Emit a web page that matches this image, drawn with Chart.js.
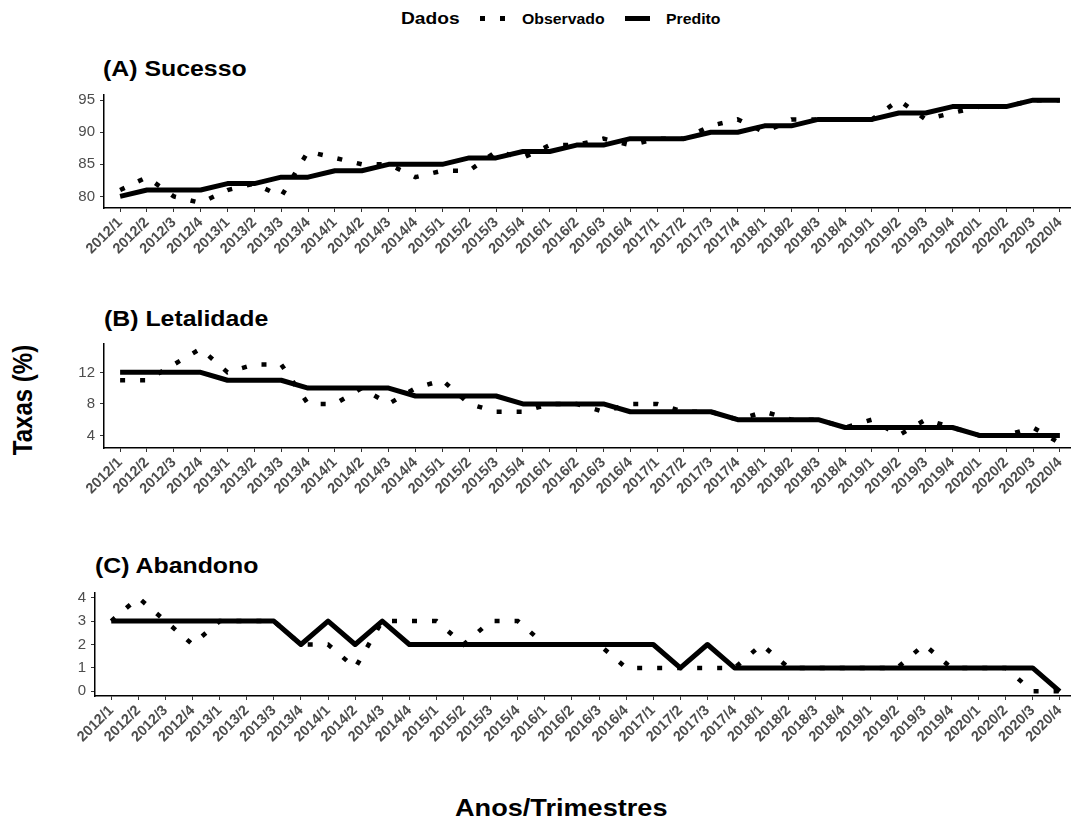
<!DOCTYPE html>
<html>
<head>
<meta charset="utf-8">
<script src="https://cdn.jsdelivr.net/npm/chart.js@4.4.1/dist/chart.umd.min.js"></script>
<style>
  html, body { margin: 0; padding: 0; background: #fff; width: 1071px; height: 823px; overflow: hidden; }
  body { position: relative; font-family: "Liberation Sans", Arial, sans-serif; }
  canvas { position: absolute; left: 0; }
  .txt { position: absolute; white-space: nowrap; font-weight: bold; color: #000; line-height: 1; transform-origin: 0 0; transform: scaleX(1.13); }
  .panel-title { font-size: 22px; }
  .axis-title { font-size: 24px; }
  .leg-title { font-size: 17px; }
  .leg-item { font-size: 14px; }
  .dot { position: absolute; width: 5px; height: 5px; background: #000; }
  .solid { position: absolute; height: 5px; background: #000; }
  #ytitle { position: absolute; left: 22.5px; top: 400px; transform-origin: 0 0; transform: scaleX(1.13) rotate(-90deg); }
  #ytitle span { display: block; white-space: nowrap; font-weight: bold; font-size: 24px; line-height: 1; transform: translate(-50%, -50%); }
</style>
</head>
<body>

<!-- legend -->
<div class="txt leg-title" style="left:401px; top:10px;">Dados</div>
<div class="dot" style="left:479.5px; top:16px;"></div>
<div class="dot" style="left:499.5px; top:16px;"></div>
<div class="txt leg-item" style="left:522px; top:11.5px;">Observado</div>
<div class="solid" style="left:625px; top:16px; width:25px;"></div>
<div class="txt leg-item" style="left:666px; top:11.5px;">Predito</div>

<!-- panel titles -->
<div class="txt panel-title" style="left:103px; top:58.4px;">(A) Sucesso</div>
<div class="txt panel-title" style="left:104px; top:308.4px;">(B) Letalidade</div>
<div class="txt panel-title" style="left:95px; top:555.4px;">(C) Abandono</div>

<!-- shared axis titles -->
<div id="ytitle"><span>Taxas (%)</span></div>
<div class="txt axis-title" style="left:455px; top:796.4px;">Anos/Trimestres</div>

<canvas id="chartA"></canvas>
<canvas id="chartB"></canvas>
<canvas id="chartC"></canvas>

<script>
// Quarter labels (x axis)
const quarters = [
  '2012/1', '2012/2', '2012/3', '2012/4',
  '2013/1', '2013/2', '2013/3', '2013/4',
  '2014/1', '2014/2', '2014/3', '2014/4',
  '2015/1', '2015/2', '2015/3', '2015/4',
  '2016/1', '2016/2', '2016/3', '2016/4',
  '2017/1', '2017/2', '2017/3', '2017/4',
  '2018/1', '2018/2', '2018/3', '2018/4',
  '2019/1', '2019/2', '2019/3', '2019/4',
  '2020/1', '2020/2', '2020/3', '2020/4'
];

// (A) Sucesso
const sucessoObservado = [81, 83, 80, 79, 81, 82, 80, 87, 86, 85, 85, 83, 84, 84, 87, 86, 88, 88,
                          89, 88, 89, 89, 91, 92, 90, 92, 92, 92, 92, 95, 92, 93, 94, 94, 95, 95];
const sucessoPredito   = [80, 81, 81, 81, 82, 82, 83, 83, 84, 84, 85, 85, 85, 86, 86, 87, 87, 88,
                          88, 89, 89, 89, 90, 90, 91, 91, 92, 92, 92, 93, 93, 94, 94, 94, 95, 95];
const sucessoTicks = [80, 85, 90, 95];

// (B) Letalidade
const letalidadeObservado = [11, 11, 13, 15, 12, 13, 13, 8, 8, 10, 8, 10, 11, 8, 7, 7, 8, 8,
                             7, 8, 8, 7, 7, 6, 7, 6, 6, 5, 6, 4, 6, 5, 4, 4, 5, 3];
const letalidadePredito   = [12, 12, 12, 12, 11, 11, 11, 10, 10, 10, 10, 9, 9, 9, 9, 8, 8, 8,
                             8, 7, 7, 7, 7, 6, 6, 6, 6, 5, 5, 5, 5, 5, 4, 4, 4, 4];
const letalidadeTicks = [4, 8, 12];

// (C) Abandono
const abandonoObservado = [3, 4, 3, 2, 3, 3, 3, 2, 2, 1, 3, 3, 3, 2, 3, 3, 2, 2,
                           2, 1, 1, 1, 1, 1, 2, 1, 1, 1, 1, 1, 2, 1, 1, 1, 0, 0];
const abandonoPredito   = [3, 3, 3, 3, 3, 3, 3, 2, 3, 2, 3, 2, 2, 2, 2, 2, 2, 2,
                           2, 2, 2, 1, 2, 1, 1, 1, 1, 1, 1, 1, 1, 1, 1, 1, 1, 0];
const abandonoTicks = [0, 1, 2, 3, 4];

const FONT = 'Liberation Sans';

// Range with 5% padding on each side of the data
function paddedRange(a, b) {
  const all = a.concat(b);
  const lo = Math.min(...all), hi = Math.max(...all);
  const pad = (hi - lo) * 0.05;
  return [lo - pad, hi + pad];
}

function makePanel(id, box, obs, pred, yTicks) {
  const padTop = 12, padRight = 12, xAxisH = 60;
  const canvas = document.getElementById(id);
  canvas.width = box.right + padRight;
  canvas.height = (box.bottom - box.top) + padTop + xAxisH;
  canvas.style.top = (box.top - padTop) + 'px';

  const [yMin, yMax] = paddedRange(obs, pred);
  const axisGrid = { drawOnChartArea: false, drawTicks: true, tickLength: 4, color: '#333333', lineWidth: 1 };
  const axisBorder = { display: true, color: '#000000', width: 1.5 };

  new Chart(canvas, {
    type: 'line',
    data: {
      datasets: [
        {
          label: 'Predito',
          data: pred.map((v, i) => ({ x: i, y: v })),
          borderColor: '#000000',
          borderWidth: 5,
          borderJoinStyle: 'round',
          borderCapStyle: 'butt',
          pointRadius: 0,
          tension: 0,
          order: 0
        },
        {
          label: 'Observado',
          data: obs.map((v, i) => ({ x: i, y: v })),
          borderColor: '#000000',
          borderWidth: 4.5,
          borderDash: [5, 15],
          borderCapStyle: 'butt',
          pointRadius: 0,
          tension: 0,
          order: 1
        }
      ]
    },
    options: {
      responsive: false,
      animation: false,
      devicePixelRatio: 1,
      layout: { padding: { top: padTop, right: padRight, left: 0, bottom: 0 } },
      plugins: { legend: { display: false }, tooltip: { enabled: false } },
      scales: {
        x: {
          type: 'linear',
          min: -0.6,
          max: quarters.length - 1 + 0.6,
          afterBuildTicks: s => { s.ticks = quarters.map((q, i) => ({ value: i })); },
          afterFit: s => { s.height = xAxisH; },
          ticks: {
            autoSkip: false,
            minRotation: 45,
            maxRotation: 45,
            padding: 2,
            color: '#4d4d4d',
            font: { family: FONT, size: 14.5, weight: 'bold' },
            callback: v => quarters[v]
          },
          grid: axisGrid,
          border: axisBorder
        },
        y: {
          type: 'linear',
          min: yMin,
          max: yMax,
          afterBuildTicks: s => { s.ticks = yTicks.map(v => ({ value: v })); },
          afterFit: s => { s.width = box.left; },
          ticks: {
            padding: 5,
            color: '#4d4d4d',
            font: { family: FONT, size: 15 }
          },
          grid: axisGrid,
          border: axisBorder
        }
      }
    }
  });
}

makePanel('chartA', { left: 104, top: 93, right: 1076, bottom: 208 }, sucessoObservado, sucessoPredito, sucessoTicks);
makePanel('chartB', { left: 104, top: 342, right: 1076, bottom: 448 }, letalidadeObservado, letalidadePredito, letalidadeTicks);
makePanel('chartC', { left: 95, top: 591, right: 1076, bottom: 696 }, abandonoObservado, abandonoPredito, abandonoTicks);
</script>
</body>
</html>
